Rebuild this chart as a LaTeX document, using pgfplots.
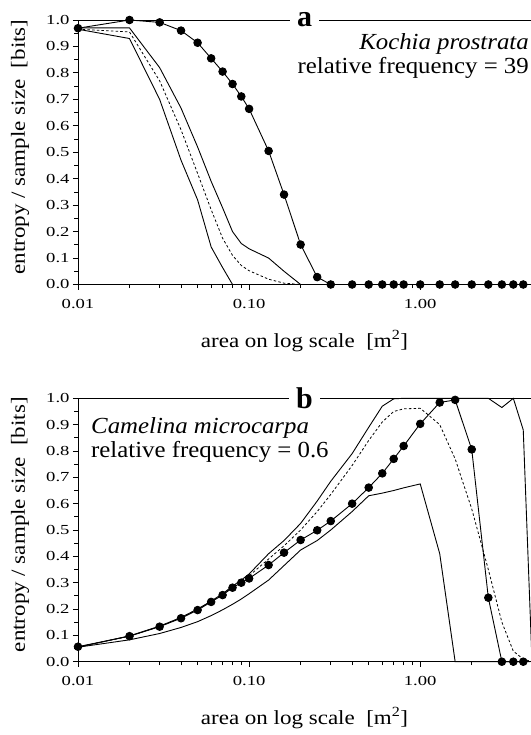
\documentclass[border=0pt]{standalone}
\usepackage{fontspec}
\setmainfont{Liberation Serif}
\newfontfamily\tickfont{Liberation Serif}[FakeStretch=1.35]
\newfontfamily\labfont{Liberation Serif}[FakeStretch=1.15]
\newfontfamily\annfont{Liberation Serif}[FakeStretch=1.08]
\usepackage{pgfplots}
\pgfplotsset{compat=1.18}

\pgfplotsset{every axis/.append style={
    scale only axis, width=453bp,
    xmode=log, xmin=0.01, xmax=4.44, ymin=0, ymax=1,
    axis x line*=bottom, axis y line*=left,
    axis line style={line width=0.9bp},
    tick align=outside,
    major tick length=5bp, minor tick length=3.5bp,
    every tick/.style={black, line width=0.8bp},
    xtick={0.01,0.1,1}, xticklabels={0.01,0.10,1.00},
    minor xtick={0.02,0.03,0.04,0.05,0.06,0.07,0.08,0.09,0.2,0.3,0.4,0.5,0.6,0.7,0.8,0.9,2,3,4},
    ytick={0,0.1,0.2,0.3,0.4,0.5,0.6,0.7,0.8,0.9,1},
    minor ytick={0.05,0.15,0.25,0.35,0.45,0.55,0.65,0.75,0.85,0.95},
    yticklabel style={/pgf/number format/.cd, fixed, fixed zerofill, precision=1, assume math mode=true},
    tick label style={font=\tickfont\fontsize{13.8bp}{15bp}\selectfont},
    xticklabel style={yshift=-6bp},
    xlabel={area on log scale\ \ [m\textsuperscript{2}]},
    ylabel={entropy / sample size\ \ [bits]},
    label style={font=\labfont\fontsize{20bp}{22bp}\selectfont},
    xlabel style={at={(axis description cs:0.5,-0.2136)}, anchor=center},
    ylabel style={at={(axis description cs:-0.128,0.52)}, anchor=center},
    clip=false,
}}
\tikzset{
  kdots/.style={black, line width=0.9bp, mark=*, mark size=3.8bp, mark options={solid, fill=black}},
  kband/.style={black, line width=0.9bp},
  kmid/.style={black, line width=0.8bp, dash pattern=on 2.5bp off 2.2bp},
  paneltitle/.style={fill=white, inner xsep=7bp, inner ysep=1bp, font=\fontsize{30bp}{30bp}\selectfont\bfseries},
  annot/.style={anchor=base west, inner sep=0pt, font=\annfont\fontsize{23bp}{24bp}\selectfont},
}

\begin{document}
\begin{tikzpicture}
% panel a: Kochia prostrata
\begin{axis}[height=264.5bp, at={(0bp,0bp)}, anchor=south west]
\addplot[kband, no marks] coordinates {(0.01,0.97)(0.02,0.97)(0.03,0.82)(0.04,0.667)(0.05,0.52)(0.06,0.39)(0.07,0.29)(0.08,0.2)(0.09,0.155)(0.1,0.135)(0.13,0.10)(0.16,0.05)(0.2,0)(0.3,0)(0.5,0)(1,0)(2,0)(4.4,0)};
\addplot[kmid, no marks] coordinates {(0.01,0.965)(0.02,0.955)(0.03,0.77)(0.04,0.585)(0.05,0.42)(0.06,0.283)(0.07,0.175)(0.08,0.11)(0.09,0.072)(0.1,0.052)(0.13,0.02)(0.16,0.005)(0.2,0)};
\addplot[kband, no marks] coordinates {(0.01,0.965)(0.02,0.93)(0.03,0.70)(0.04,0.47)(0.05,0.32)(0.06,0.142)(0.07,0.064)(0.08,0)(0.1,0)};
\addplot[kdots] coordinates {(0.01,0.969)(0.02,1.0)(0.03,0.991)(0.04,0.96)(0.05,0.914)(0.06,0.855)(0.07,0.805)(0.08,0.758)(0.09,0.711)(0.1,0.664)(0.13,0.505)(0.16,0.34)(0.2,0.151)(0.25,0.028)(0.3,0)(0.4,0)(0.5,0)(0.6,0)(0.7,0)(0.8,0)(1.0,0)(1.3,0)(1.6,0)(2.0,0)(2.5,0)(3.0,0)(3.5,0)(4.0,0)};
\draw[line width=0.9bp] (rel axis cs:0,1) -- (rel axis cs:1,1);
\node[paneltitle] at (rel axis cs:0.5,1) {a};
\end{axis}
% panel b: Camelina microcarpa
\begin{axis}[height=263.4bp, at={(0bp,-377.2bp)}, anchor=south west]
\addplot[kband, no marks] coordinates {(0.01,0.055)(0.02,0.098)(0.03,0.135)(0.04,0.168)(0.05,0.2)(0.06,0.23)(0.07,0.258)(0.08,0.287)(0.09,0.31)(0.1,0.333)(0.13,0.41)(0.16,0.46)(0.2,0.525)(0.25,0.61)(0.3,0.685)(0.4,0.79)(0.5,0.89)(0.6,0.97)(0.7,0.998)(0.8,1)(1.0,1)(1.3,1)(1.6,1)(2.0,1)(2.5,1)(3.0,0.965)(3.5,1)(4.0,0.88)(4.5,0.0)};
\addplot[kmid, no marks] coordinates {(0.01,0.056)(0.02,0.097)(0.03,0.134)(0.04,0.167)(0.05,0.199)(0.06,0.229)(0.07,0.256)(0.08,0.284)(0.09,0.306)(0.1,0.326)(0.13,0.39)(0.16,0.44)(0.2,0.5)(0.25,0.57)(0.3,0.635)(0.4,0.745)(0.5,0.84)(0.6,0.91)(0.7,0.95)(0.8,0.96)(1.0,0.962)(1.1,0.94)(1.3,0.9)(1.6,0.77)(2.0,0.58)(2.5,0.35)(3.0,0.15)(3.5,0.04)(4.0,0.01)(4.5,0)};
\addplot[kband, no marks] coordinates {(0.01,0.055)(0.02,0.083)(0.03,0.107)(0.04,0.13)(0.05,0.152)(0.06,0.175)(0.07,0.197)(0.08,0.218)(0.09,0.238)(0.1,0.258)(0.13,0.31)(0.16,0.365)(0.2,0.424)(0.25,0.46)(0.3,0.5)(0.4,0.57)(0.5,0.63)(0.6,0.64)(0.7,0.65)(0.8,0.66)(1.0,0.675)(1.3,0.41)(1.6,0)(2,0)(4.4,0)};
\addplot[kdots] coordinates {(0.01,0.057)(0.02,0.097)(0.03,0.133)(0.04,0.165)(0.05,0.196)(0.06,0.227)(0.07,0.253)(0.08,0.281)(0.09,0.30)(0.1,0.316)(0.13,0.367)(0.16,0.414)(0.2,0.462)(0.25,0.499)(0.3,0.534)(0.4,0.60)(0.5,0.661)(0.6,0.715)(0.7,0.77)(0.8,0.819)(1.0,0.903)(1.3,0.984)(1.6,0.994)(2.0,0.806)(2.5,0.243)(3.0,0)(3.5,0)(4.0,0)};
\draw[line width=0.9bp] (rel axis cs:0,1) -- (rel axis cs:1,1);
\node[paneltitle] at (rel axis cs:0.5,1) {b};
\end{axis}
% species notes
\node[annot, anchor=base east] at (451bp,234.5bp) {\itshape Kochia prostrata};
\node[annot, anchor=base east] at (451bp,210.5bp) {relative frequency = 39};
\node[annot] at (13bp,-148.5bp) {\itshape Camelina microcarpa};
\node[annot] at (13bp,-172.5bp) {relative frequency = 0.6};
% the reference is cropped at its right edge
\pgfresetboundingbox
\useasboundingbox (-78bp,-450.5bp) rectangle (453bp,284.5bp);
\end{tikzpicture}
\end{document}
